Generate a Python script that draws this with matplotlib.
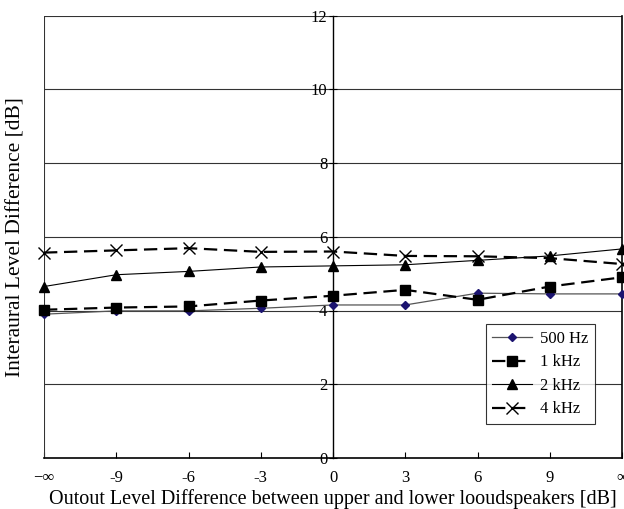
import matplotlib.pyplot as plt

plt.rcParams['font.family'] = ['Liberation Serif', 'DejaVu Serif']

# x categories (output level difference, dB)
x_labels = ['\u2212\u221e', '-9', '-6', '-3', '0', '3', '6', '9', '\u221e']

# interaural level difference, dB
ild_500 = [3.90, 3.99, 3.99, 4.06, 4.15, 4.15, 4.47, 4.45, 4.45]
ild_1k = [4.02, 4.08, 4.11, 4.27, 4.40, 4.56, 4.29, 4.65, 4.90]
ild_2k = [4.65, 4.97, 5.06, 5.18, 5.21, 5.24, 5.36, 5.48, 5.67]
ild_4k = [5.57, 5.63, 5.69, 5.59, 5.60, 5.48, 5.47, 5.42, 5.26]

xs = list(range(len(x_labels)))

fig = plt.figure(figsize=(6.24, 5.09), dpi=100)
ax = fig.add_axes([44/624, 51/509, 578/624, 442.5/509])

# horizontal grid
for g in [2, 4, 6, 8, 10, 12]:
    ax.axhline(g, color='#333333', lw=0.8, zorder=0)

ax.plot(xs, ild_500, color='#555555', lw=0.9, marker='D', ms=4.5,
        mfc='#1c1470', mec='#1c1470', label='500 Hz', clip_on=False, zorder=3)
ax.plot(xs, ild_1k, color='black', lw=1.6, ls=(0, (6, 3)), marker='s', ms=6.5,
        label='1 kHz', clip_on=False, zorder=3)
ax.plot(xs, ild_2k, color='black', lw=0.8, marker='^', ms=6.5,
        label='2 kHz', clip_on=False, zorder=3)
ax.plot(xs, ild_4k, color='black', lw=1.6, ls=(0, (6, 3)), marker='x', ms=8, mew=1.0,
        label='4 kHz', clip_on=False, zorder=3)

ax.set_xlim(0, 8)
ax.set_ylim(0, 12)

# y axis sits at 0 dB (middle of x range)
ax.spines['left'].set_position(('data', 4))
ax.spines['top'].set_visible(False)
ax.axvline(0, color='#333333', lw=1.5, zorder=2)
ax.spines['right'].set_linewidth(1.2)
ax.spines['bottom'].set_linewidth(1.2)
ax.spines['left'].set_linewidth(1.0)

ax.set_xticks(xs)
ax.set_xticklabels(x_labels)
ax.set_yticks([0, 2, 4, 6, 8, 10, 12])
ax.tick_params(axis='x', direction='in', length=4, labelsize=12, pad=9)
ax.tick_params(axis='y', direction='inout', length=6, labelsize=12, pad=1)
for lbl in ax.get_yticklabels():
    lbl.set_zorder(1)

ax.set_xlabel('Outout Level Difference between upper and lower looudspeakers [dB]',
              fontsize=14.5, labelpad=2)
fig.text(16/624, 0.535, 'Interaural Level Difference [dB]', rotation=90,
         ha='center', va='center', fontsize=15.5)

leg = ax.legend(loc='lower right', fontsize=12, frameon=True,
                fancybox=False, edgecolor='black', handlelength=2.4,
                handletextpad=0.45, borderpad=0.4, labelspacing=0.45,
                borderaxespad=0)
leg.get_frame().set_linewidth(0.8)
leg.set_bbox_to_anchor((551/578, 34/442.5), transform=ax.transAxes)

fig.savefig('out.png', dpi=100)
